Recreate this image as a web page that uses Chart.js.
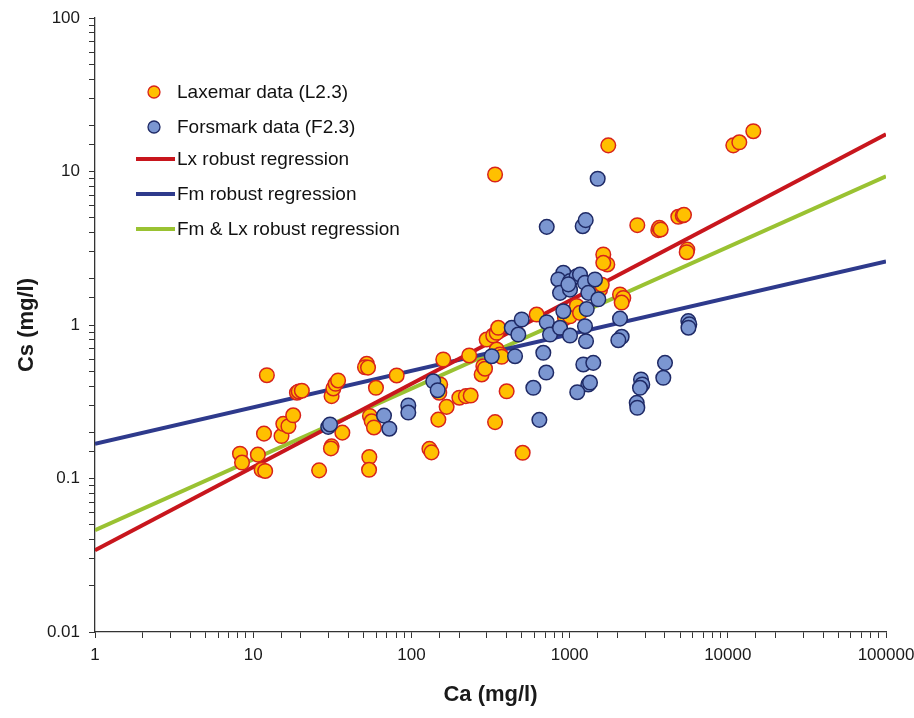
<!DOCTYPE html>
<html>
<head>
<meta charset="utf-8">
<title>Cs vs Ca</title>
<script src="https://cdn.jsdelivr.net/npm/chart.js@4.4.1/dist/chart.umd.min.js"></script>
<style>
  html, body { margin: 0; padding: 0; background: #ffffff; }
  #chartBox { width: 914px; height: 718px; }
</style>
</head>
<body>
<div id="chartBox"><canvas id="csChart" width="914" height="718"></canvas></div>
<script>
// Laxemar data (L2.3): Ca and Cs in mg/l
const laxemarCa = [8.25, 8.5, 10.7, 11.3, 11.9, 11.7, 12.2, 15.1, 15.5, 16.7,
  17.9, 18.9, 19.4, 20.3, 26.1, 31.3, 32.1, 33.2, 34.4, 31.3,
  31.0, 36.6, 52.2, 50.9, 53.2, 59.7, 54.7, 56.1, 58.0, 54.2,
  54.0, 80.7, 130, 134, 148, 167, 159, 152, 150, 201,
  221, 237, 232, 278, 285, 292, 299, 329, 346, 354,
  346, 363, 372, 338, 338, 400, 505, 619, 935, 1006,
  1109, 1163, 1557, 1596, 1633, 1731, 1633, 1756, 2083, 2185,
  2134, 2679, 3637, 3690, 3766, 4865, 5187, 5286, 5546, 5498,
  10834, 11825, 14496];
const laxemarCs = [0.145, 0.127, 0.143, 0.114, 0.112, 0.196, 0.471, 0.189, 0.227, 0.219,
  0.258, 0.362, 0.369, 0.373, 0.113, 0.344, 0.386, 0.414, 0.435, 0.162,
  0.157, 0.199, 0.559, 0.531, 0.528, 0.390, 0.255, 0.236, 0.215, 0.138,
  0.114, 0.469, 0.156, 0.148, 0.242, 0.293, 0.596, 0.410, 0.362, 0.336,
  0.344, 0.347, 0.633, 0.476, 0.539, 0.519, 0.804, 0.854, 0.890, 0.959,
  0.692, 0.643, 0.621, 9.56, 0.233, 0.370, 0.147, 1.17, 1.11, 1.14,
  1.33, 1.20, 1.70, 1.83, 2.88, 2.48, 2.54, 14.8, 1.58, 1.50,
  1.40, 4.47, 4.15, 4.30, 4.19, 5.07, 5.17, 5.22, 3.10, 2.98,
  14.8, 15.5, 18.3];

// Forsmark data (F2.3)
const forsmarkCa = [29.8, 30.6, 67.1, 72.5, 95.6, 95.6, 137.5, 146.6, 322, 452,
  431, 474, 498, 590, 644, 682, 712, 717, 717, 752,
  870, 913, 848, 1006, 1109, 1163, 1251, 1447, 870, 1006,
  1313, 1519, 1283, 913, 1006, 1251, 1270, 1221, 1412, 1313,
  1346, 1118, 1210, 1264, 1505, 2083, 2134, 2032, 2827, 2880,
  2786, 2656, 2679, 4009, 3911, 5628, 5710, 5640, 982];
const forsmarkCs = [0.217, 0.225, 0.257, 0.211, 0.299, 0.269, 0.430, 0.376, 0.626, 0.626,
  0.959, 0.867, 1.086, 0.390, 0.241, 0.659, 0.490, 4.36, 1.043, 0.867,
  0.959, 2.19, 1.98, 1.93, 2.08, 2.13, 1.88, 1.98, 1.62, 1.70,
  1.62, 1.47, 1.27, 1.23, 0.854, 0.982, 0.784, 0.553, 0.567, 0.410,
  0.422, 0.365, 4.40, 4.82, 8.97, 1.10, 0.838, 0.796, 0.442, 0.410,
  0.390, 0.311, 0.289, 0.567, 0.453, 1.06, 1.01, 0.96, 1.84];

// Robust regression lines, end points at Ca = 1 and Ca = 100000
const regCa = [1, 100000];
const lxRegCs = [0.0341, 17.5];
const fmRegCs = [0.168, 2.59];
const allRegCs = [0.046, 9.3];

// Axis tick labels (powers of ten only)
const xTickLabels = ['1', '10', '100', '1000', '10000', '100000'];
const yTickLabels = ['0.01', '0.1', '1', '10', '100'];

const legendLabels = ['Laxemar data (L2.3)', 'Forsmark data (F2.3)',
  'Lx robust regression', 'Fm robust regression', 'Fm & Lx robust regression'];

const orangeFill = '#FFC000';
const orangeEdge = '#D8231B';
const blueFill = '#7B96D1';
const blueEdge = '#1F2A66';
const redLine = '#C8161D';
const blueLine = '#2E3A8C';
const greenLine = '#9AC232';

function toPoints(xs, ys) {
  return xs.map((x, i) => ({ x: x, y: ys[i] }));
}

// label only the decades
function decadeLabel(labels) {
  return function (value) {
    const l = Math.log10(value);
    if (Math.abs(l - Math.round(l)) > 1e-6) return '';
    const found = labels.find(t => Math.abs(parseFloat(t) - value) < value * 1e-6);
    return found || '';
  };
}

// legend drawn inside the plot area, top left
const insideLegend = {
  id: 'insideLegend',
  afterDraw(chart) {
    const ctx = chart.ctx;
    ctx.save();
    ctx.font = '19px "Liberation Sans", Arial, sans-serif';
    ctx.textBaseline = 'middle';
    ctx.textAlign = 'left';
    const rows = [92, 127, 159, 194, 229];
    const markers = [[orangeFill, orangeEdge], [blueFill, blueEdge]];
    const lines = [redLine, blueLine, greenLine];
    rows.forEach((y, i) => {
      if (i < 2) {
        ctx.beginPath();
        ctx.arc(154, y, 6, 0, Math.PI * 2);
        ctx.fillStyle = markers[i][0];
        ctx.fill();
        ctx.lineWidth = 1.3;
        ctx.strokeStyle = markers[i][1];
        ctx.stroke();
      } else {
        ctx.beginPath();
        ctx.moveTo(136, y);
        ctx.lineTo(175, y);
        ctx.lineWidth = 4;
        ctx.strokeStyle = lines[i - 2];
        ctx.stroke();
      }
      ctx.fillStyle = '#111111';
      ctx.fillText(legendLabels[i], 177, y + 1);
    });
    ctx.restore();
  }
};

const tickFont = { family: '"Liberation Sans", Arial, sans-serif', size: 17 };
const titleFont = { family: '"Liberation Sans", Arial, sans-serif', size: 22, weight: 'bold' };

new Chart(document.getElementById('csChart'), {
  type: 'scatter',
  data: {
    datasets: [
      {
        label: legendLabels[1],
        data: toPoints(forsmarkCa, forsmarkCs),
        backgroundColor: blueFill,
        borderColor: blueEdge,
        borderWidth: 1.5,
        pointRadius: 7.3,
        order: 0
      },
      {
        label: legendLabels[0],
        data: toPoints(laxemarCa, laxemarCs),
        backgroundColor: orangeFill,
        borderColor: orangeEdge,
        borderWidth: 1.5,
        pointRadius: 7.3,
        order: 1
      },
      {
        label: legendLabels[2],
        data: toPoints(regCa, lxRegCs),
        showLine: true,
        borderColor: redLine,
        borderWidth: 4,
        pointRadius: 0,
        order: 2
      },
      {
        label: legendLabels[3],
        data: toPoints(regCa, fmRegCs),
        showLine: true,
        borderColor: blueLine,
        borderWidth: 4,
        pointRadius: 0,
        order: 3
      },
      {
        label: legendLabels[4],
        data: toPoints(regCa, allRegCs),
        showLine: true,
        borderColor: greenLine,
        borderWidth: 4,
        pointRadius: 0,
        order: 4
      }
    ]
  },
  options: {
    responsive: false,
    animation: false,
    layout: { padding: { top: 18, right: 28, left: 0, bottom: 0 } },
    plugins: {
      legend: { display: false },
      tooltip: { enabled: false }
    },
    scales: {
      x: {
        type: 'logarithmic',
        min: 1,
        max: 100000,
        afterFit: (scale) => {
          scale.height = 86;
          // keep the end labels from pushing the plot area inwards
          scale.paddingLeft = 0;
          scale.paddingRight = 0;
        },
        border: { display: true, color: '#333333', width: 1.3 },
        grid: { drawOnChartArea: false, drawTicks: true, tickLength: 6, color: '#333333' },
        ticks: {
          autoSkip: false, maxRotation: 0, padding: 7, color: '#1a1a1a', font: tickFont,
          callback: decadeLabel(xTickLabels)
        },
        title: { display: true, text: 'Ca (mg/l)', color: '#1a1a1a', font: titleFont, padding: { bottom: 10 } }
      },
      y: {
        type: 'logarithmic',
        min: 0.01,
        max: 100,
        afterFit: (scale) => {
          scale.width = 95;
          scale.paddingTop = 0;
          scale.paddingBottom = 0;
        },
        border: { display: true, color: '#333333', width: 1.3 },
        grid: { drawOnChartArea: false, drawTicks: true, tickLength: 6, color: '#333333' },
        ticks: {
          autoSkip: false, padding: 9, color: '#1a1a1a', font: tickFont,
          callback: decadeLabel(yTickLabels)
        },
        title: { display: true, text: 'Cs (mg/l)', color: '#1a1a1a', font: titleFont, padding: { top: 14 } }
      }
    }
  },
  plugins: [insideLegend]
});
</script>
</body>
</html>
